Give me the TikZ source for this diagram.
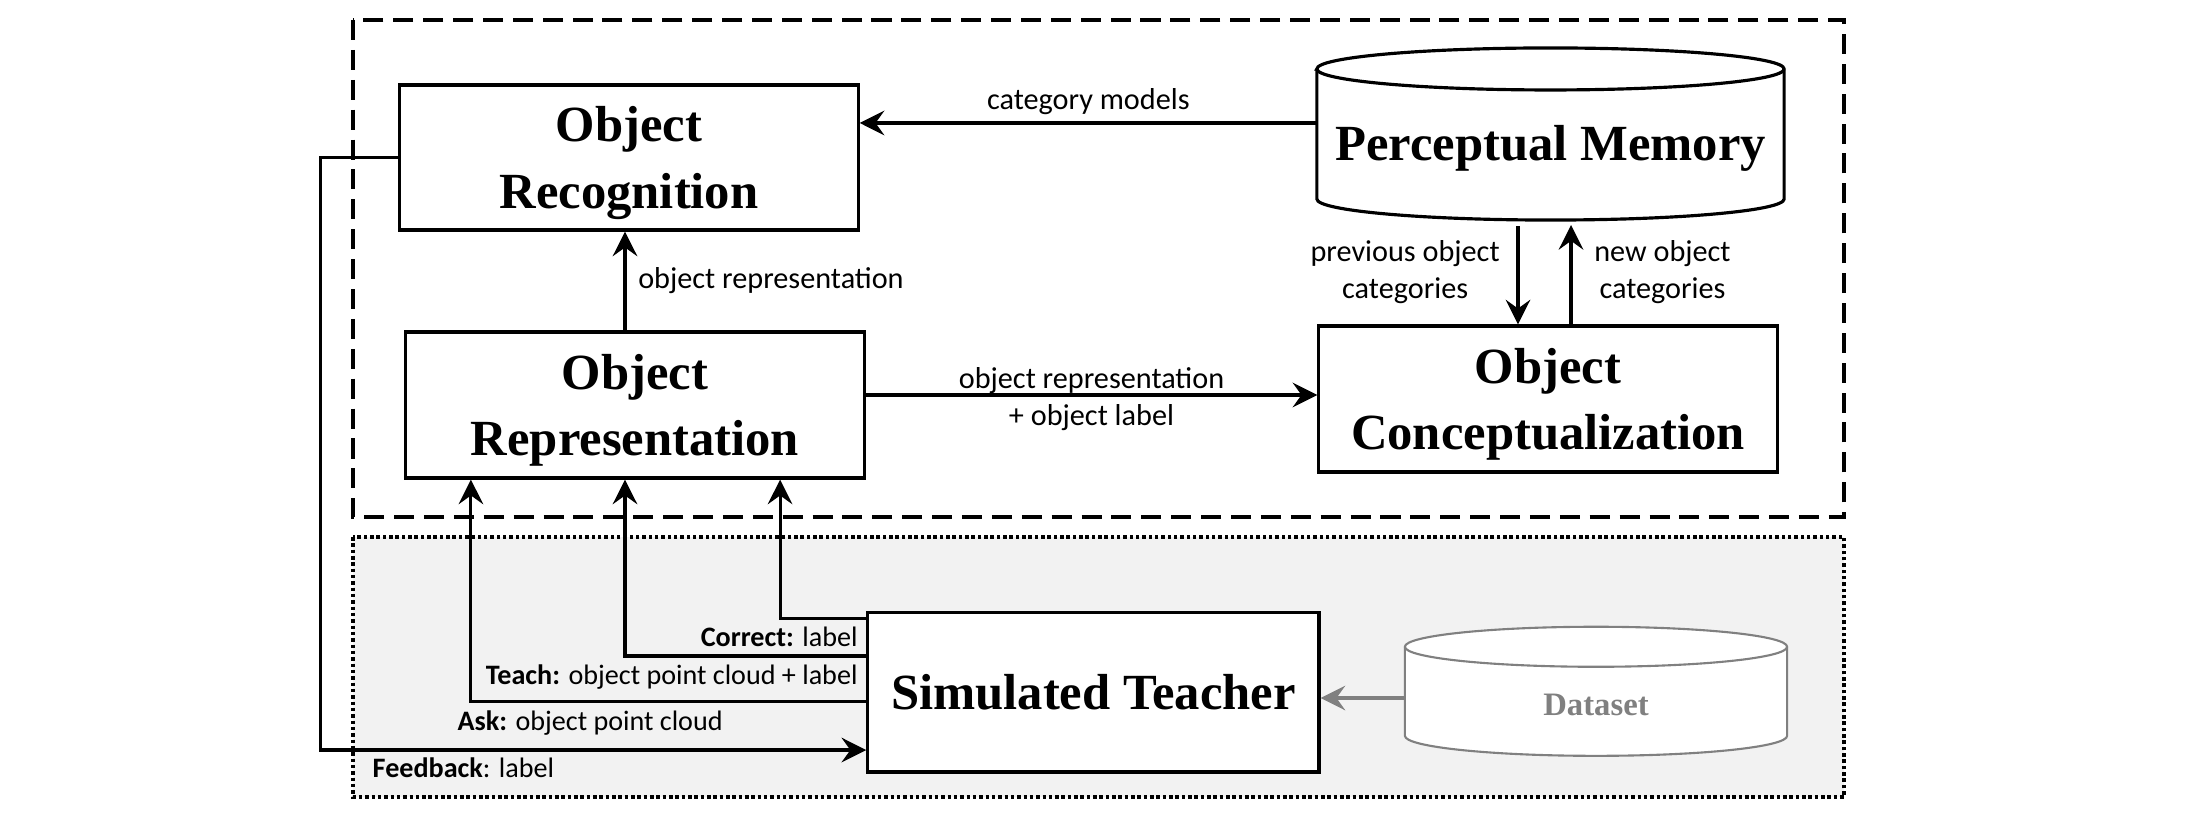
\documentclass[tikz,border=0pt]{standalone}
\usepackage{fontspec}
\setmainfont{Liberation Serif}
\newfontfamily\lblfont{Carlito}
\usetikzlibrary{positioning,arrows.meta,backgrounds}

\tikzset{
  block/.style={draw,line width=0.9pt,fill=white,minimum width=4.58cm,minimum height=1.45cm,align=center,text depth=0pt,font=\fontsize{14.4}{19}\selectfont\bfseries},
  memory/.style={inner sep=0pt,outer sep=0pt,font=\fontsize{14.4}{19}\selectfont\bfseries},
  arr/.style={-{Stealth[length=7pt,width=7pt,inset=2.5pt]},line width=0.9pt},
  lbl/.style={font=\lblfont\fontsize{8.6}{10.5}\selectfont,align=center},
  tlbl/.style={font=\lblfont\fontsize{8}{9.6}\selectfont,inner sep=2pt},
}

\begin{document}
\begin{tikzpicture}[x=0.01cm,y=-0.01cm]
    \useasboundingbox (0,0) rectangle (2200,819);
    % Frames
    \begin{scope}[on background layer]
        \draw[line width=0.9pt,dash pattern=on 5.7pt off 2.8pt] (353,20) rectangle (1844,517);
        \draw[line width=1pt,dash pattern=on 1pt off 0.8pt,fill=gray!10] (353,537) rectangle (1844,797);
    \end{scope}
    % Blocks
    \node[block] (ORec) at (629,157.5) {Object\\Recognition};
    \node[block,minimum height=1.46cm] (ORep) at (635,405) {Object\\Representation};
    \node[block,minimum height=1.46cm] (OC) at (1548,399) {Object\\Conceptualization};
    \node[block,minimum width=4.51cm,minimum height=1.59cm] (ST) at (1093.4,692.4) {Simulated Teacher};
    \node[memory,minimum width=4.67cm,minimum height=1.72cm,text height=17.9pt,text depth=3.1pt] (PM) at (1550.5,134) {Perceptual Memory};
    \node[memory,text=gray,minimum width=3.82cm,minimum height=1.29cm,font=\fontsize{9.3}{11}\selectfont\bfseries,text height=13.5pt,text depth=0pt] (DS) at (1596,691.3) {Dataset};
    % Cylinder outlines
    \begin{scope}[on background layer]
        \draw[line width=0.9pt,fill=white] ([yshift=-0.21cm]PM.north west) -- ([yshift=0.21cm]PM.south west)
            arc[start angle=180,end angle=360,x radius=2.335cm,y radius=0.21cm] -- ([yshift=-0.21cm]PM.north east)
            arc[start angle=0,end angle=180,x radius=2.335cm,y radius=0.21cm] -- cycle;
        \draw[line width=0.9pt] ([yshift=-0.21cm]PM.north west) arc[start angle=180,end angle=360,x radius=2.335cm,y radius=0.21cm];
        \draw[gray,line width=0.6pt,fill=white] ([yshift=-0.2cm]DS.north west) -- ([yshift=0.2cm]DS.south west)
            arc[start angle=180,end angle=360,x radius=1.91cm,y radius=0.2cm] -- ([yshift=-0.2cm]DS.north east)
            arc[start angle=0,end angle=180,x radius=1.91cm,y radius=0.2cm] -- cycle;
        \draw[gray,line width=0.6pt] ([yshift=-0.2cm]DS.north west) arc[start angle=180,end angle=360,x radius=1.91cm,y radius=0.2cm];
    \end{scope}
    % Arrows between blocks
    \draw[arr] ([yshift=0.11cm]PM.west) -- ([yshift=0.11cm]PM.west -| ORec.east) node[lbl,midway,above,inner sep=1.8pt] (cmlbl) {category models};
    \draw[arr] ([xshift=-0.1cm]ORep.north) -- ([xshift=-0.1cm]ORep.north |- ORec.south) node[lbl,midway,right] (orlbl) {object representation};
    \draw[arr] ([yshift=0.1cm]ORep.east) -- ([yshift=0.1cm]ORep.east -| OC.west) node[lbl,midway,yshift=-0.04cm] (ollbl) {object representation\\+ object label};
    \draw[arr,shorten <=0.06cm] ([xshift=-0.3cm]OC.north |- PM.south) -- ([xshift=-0.3cm]OC.north) node[lbl,midway,left,xshift=-0.05cm] (pclbl) {previous object\\categories};
    \draw[arr,shorten >=0.05cm] ([xshift=0.23cm]OC.north) -- ([xshift=0.23cm]OC.north |- PM.south) node[lbl,midway,right,xshift=0.1cm] (nclbl) {new object\\categories};
    % Teacher to representation
    \draw[arr] ([yshift=0.741cm]ST.west) -| ([xshift=1.45cm]ORep.south) node[tlbl,pos=0,anchor=north east] (crlbl) {\textbf{Correct:} label};
    \draw[arr] ([yshift=0.364cm]ST.west) -| ([xshift=-0.1cm]ORep.south) node[tlbl,pos=0,anchor=north east] (tclbl) {\textbf{Teach:} object point cloud + label};
    \draw[arr] ([yshift=-0.093cm]ST.west) -| ([xshift=-1.64cm]ORep.south) node[tlbl,pos=0.5,anchor=north west,xshift=-0.22cm] (asklbl) {\textbf{Ask:} object point cloud};
    % Feedback
    \draw[arr] (ORec.west) -- ++(-78,0) |- ([yshift=-0.576cm]ST.west);
    \node[tlbl,anchor=north west] (fblbl) at (365,750) {\textbf{Feedback}: label};
    % Dataset
    \draw[arr,gray] ([yshift=-0.067cm]DS.west) -- ([yshift=-0.067cm]DS.west -| ST.east);
\end{tikzpicture}
\end{document}
